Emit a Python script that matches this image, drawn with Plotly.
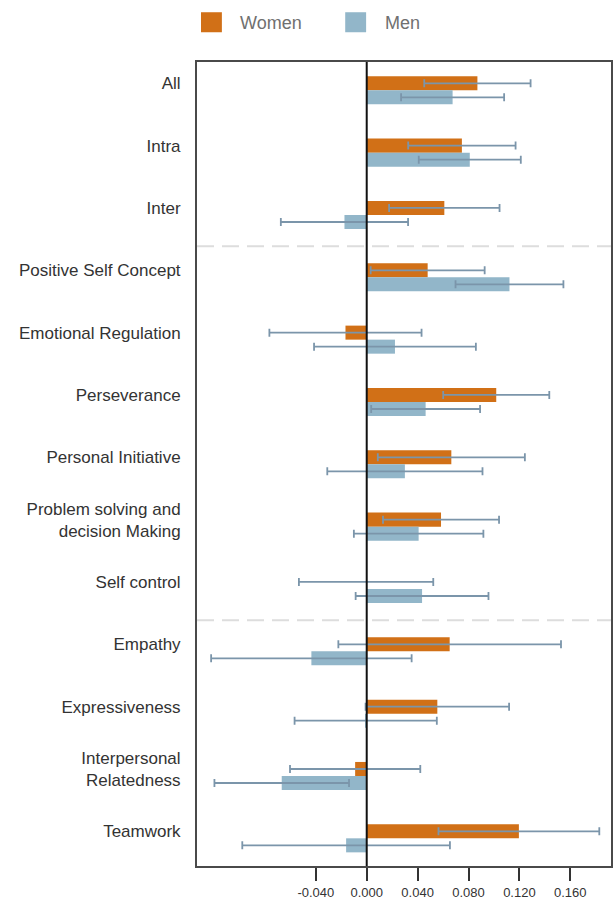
import plotly.graph_objects as go

categories = [
    "All", "Intra", "Inter", "Positive Self Concept", "Emotional Regulation",
    "Perseverance", "Personal Initiative", "Problem solving and<br>decision Making",
    "Self control", "Empathy", "Expressiveness", "Interpersonal<br>Relatedness", "Teamwork",
]
women = [0.0870, 0.0748, 0.0610, 0.0479, -0.0167, 0.1018, 0.0665, 0.0584,
         -0.0005, 0.0652, 0.0555, -0.0091, 0.1196]
women_err = [0.0418, 0.0422, 0.0434, 0.0448, 0.0598, 0.0417, 0.0578, 0.0456,
             0.0528, 0.0875, 0.0564, 0.0512, 0.0632]
men = [0.0675, 0.0810, -0.0175, 0.1122, 0.0222, 0.0463, 0.0300, 0.0408,
       0.0435, -0.0435, -0.0008, -0.0668, -0.0162]
men_err = [0.0405, 0.0401, 0.0500, 0.0424, 0.0636, 0.0428, 0.0610, 0.0509,
           0.0522, 0.0788, 0.0559, 0.0529, 0.0816]
tick_vals = [-0.04, 0.0, 0.04, 0.08, 0.12, 0.16]
tick_text = ["-0.040", "0.000", "0.040", "0.080", "0.120", "0.160"]
separators_after = ["Inter", "Self control"]

WOMEN_COLOR = "#D17017"
MEN_COLOR = "#92B6C9"
ERR_COLOR = "#7B95AA"
FONT = "Liberation Sans, Arial, sans-serif"

fig = go.Figure()
for name, vals, errs, color in [("Women", women, women_err, WOMEN_COLOR),
                                ("Men", men, men_err, MEN_COLOR)]:
    fig.add_trace(go.Bar(
        name=name, y=categories, x=vals, orientation="h",
        marker=dict(color=color, line=dict(width=0)),
        error_x=dict(type="data", array=errs, visible=True,
                     color=ERR_COLOR, thickness=1.8, width=4),
        showlegend=False,
    ))

shapes = []
for cat in separators_after:
    idx = categories.index(cat) + 0.5
    shapes.append(dict(type="line", xref="paper", x0=0, x1=1, yref="y", y0=idx, y1=idx,
                       line=dict(color="#DDDDDD", width=2, dash="17px,8px"), layer="below"))
shapes.append(dict(type="line", xref="x", x0=0, x1=0, yref="paper", y0=0, y1=1,
                   line=dict(color="#111111", width=2), layer="above"))

# legend swatches
legend_items = [("Women", WOMEN_COLOR, 0.0096, 0.0985), ("Men", MEN_COLOR, 0.358, 0.449)]
annotations = []
for label, color, sx, tx in legend_items:
    shapes.append(dict(type="rect", xref="paper", yref="paper", x0=sx, x1=sx + 0.0505,
                       y0=1.037, y1=1.0619, fillcolor=color, line=dict(width=0)))
    annotations.append(dict(xref="paper", yref="paper", x=tx, y=1.049, text=label,
                            showarrow=False, xanchor="left", yanchor="middle",
                            font=dict(family=FONT, size=18, color="#707070")))

fig.update_layout(
    width=614, height=901,
    margin=dict(l=197, r=1, t=62, b=35),
    barmode="group", bargap=0.55, bargroupgap=0,
    plot_bgcolor="white", paper_bgcolor="white",
    font=dict(family=FONT, color="#333333"),
    shapes=shapes, annotations=annotations,
    xaxis=dict(range=[-0.1334, 0.192], tickvals=tick_vals, ticktext=tick_text,
               ticks="outside", ticklen=13, tickwidth=2, tickcolor="#333333",
               tickfont=dict(size=13, color="#333333"),
               showgrid=False, zeroline=False,
               showline=True, mirror=True, linecolor="#4A4A4A", linewidth=2),
    yaxis=dict(range=[12.444, -0.454], ticks="", ticklabelstandoff=11,
               ticklabelshift=7,
               tickfont=dict(size=17, color="#333333"),
               showgrid=False, zeroline=False,
               showline=True, mirror=True, linecolor="#4A4A4A", linewidth=2),
)

fig.write_html("out.html")
